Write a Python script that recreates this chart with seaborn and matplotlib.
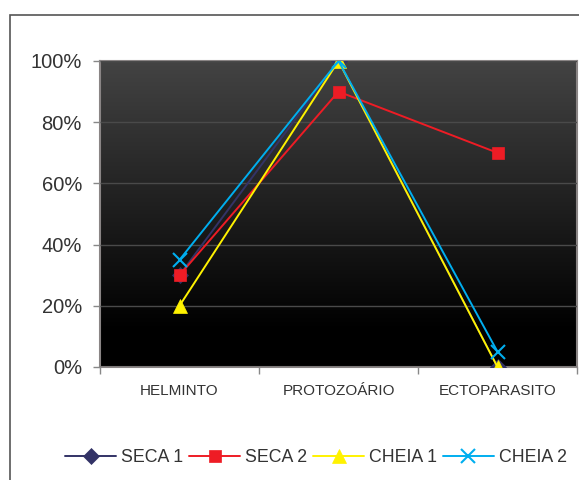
import numpy as np
import pandas as pd
import matplotlib
matplotlib.use("Agg")
import matplotlib.pyplot as plt
import matplotlib.patches as mpatches
from matplotlib.ticker import FixedLocator, PercentFormatter
import seaborn as sns

categories = ["HELMINTO", "PROTOZOÁRIO", "ECTOPARASITO"]
seca_1 = [0.30, 1.00, 0.00]
seca_2 = [0.30, 0.90, 0.70]
cheia_1 = [0.20, 1.00, 0.00]
cheia_2 = [0.35, 1.00, 0.05]

series = [
    ("SECA 1", seca_1, "#333366", "D", 8),
    ("SECA 2", seca_2, "#EE1C25", "s", 9),
    ("CHEIA 1", cheia_1, "#FFF200", "^", 10),
    ("CHEIA 2", cheia_2, "#00AEEF", "x", 10),
]

sns.set_theme(style="white")
plt.rcParams["font.family"] = ["Liberation Sans", "DejaVu Sans"]
text_color = "#333333"

fig = plt.figure(figsize=(5.79, 4.80), dpi=100)
ax = fig.add_axes([100 / 579, 1 - 367 / 480, 477 / 579, (367 - 61) / 480])

# dark vertical gradient behind the plot
grad = np.linspace(0, 1, 256).reshape(-1, 1)
cmap = matplotlib.colors.LinearSegmentedColormap.from_list(
    "bg", [(0.0, "#000000"), (0.12, "#000000"), (1.0, "#434343")])
ax.imshow(grad, cmap=cmap, aspect="auto", origin="lower",
          extent=[0, 1, 0, 1], transform=ax.transAxes, zorder=0)

x_pos = np.arange(len(categories))
for name, vals, color, marker, ms in series:
    df = pd.DataFrame({"x": x_pos, "y": vals})
    sns.lineplot(data=df, x="x", y="y", ax=ax, color=color, lw=1.4,
                 marker=marker, markersize=ms, markeredgecolor=color,
                 markeredgewidth=1.5 if marker == "x" else 0.5,
                 label=name, sort=False, zorder=3)

ax.set_xlim(-0.5, 2.5)
ax.set_ylim(0, 1)
ax.set_xlabel("")
ax.set_ylabel("")

ax.yaxis.set_major_locator(FixedLocator([0, 0.2, 0.4, 0.6, 0.8, 1.0]))
ax.yaxis.set_major_formatter(PercentFormatter(1.0, decimals=0))
ax.grid(axis="y", color="#4a4a4a", lw=1, zorder=1)
ax.set_axisbelow(False)
for gl in ax.get_ygridlines():
    gl.set_zorder(1)

ax.set_xticks(x_pos)
ax.set_xticklabels(categories)
ax.set_xticks([-0.5, 0.5, 1.5, 2.5], minor=True)
ax.tick_params(axis="x", which="major", length=0, pad=12, labelsize=11,
               labelcolor=text_color)
ax.tick_params(axis="x", which="minor", length=5, width=1, color="#888888",
               direction="out", bottom=True)
ax.tick_params(axis="y", length=5, width=1, color="#888888", direction="out",
               left=True, labelsize=14.5, labelcolor=text_color, pad=8)

for side, sp in ax.spines.items():
    sp.set_visible(True)
    sp.set_color("#8a8585")
    sp.set_linewidth(1.5)

handles, labels = ax.get_legend_handles_labels()
ax.get_legend().remove()
fig.legend(handles, labels, loc="center", bbox_to_anchor=(316 / 579, 1 - 458 / 480),
           ncol=4, frameon=False, fontsize=12.8, handlelength=2.9,
           handletextpad=0.28, columnspacing=0.3, labelcolor=text_color)

# outer chart frame
frame = mpatches.Rectangle((10 / 579, -0.1), 1.2, 1.1 - 15 / 480,
                           transform=fig.transFigure, fill=False,
                           edgecolor="#555555", lw=1.2, clip_on=False)
fig.add_artist(frame)

fig.savefig("out.png", dpi=100, facecolor="white")
